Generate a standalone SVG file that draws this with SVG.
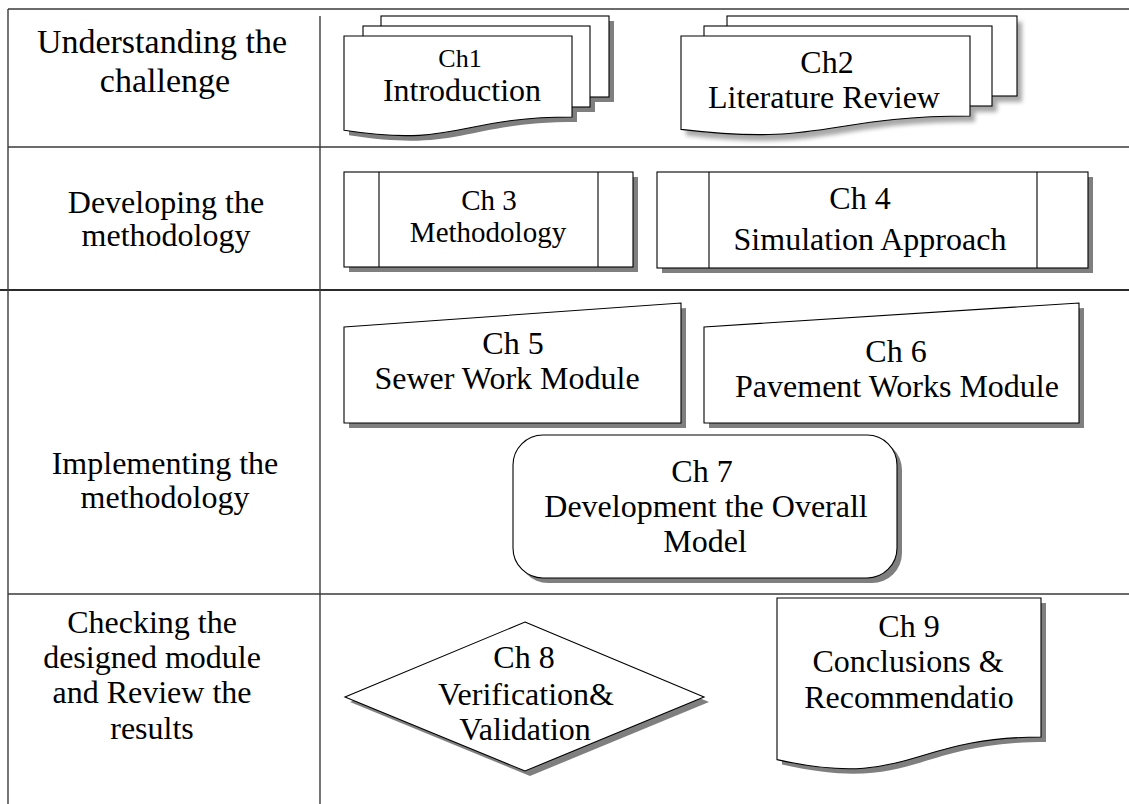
<svg xmlns="http://www.w3.org/2000/svg" width="1129" height="804" viewBox="0 0 1129 804">
  <style>
    .grid { stroke: #3a3a3a; stroke-width: 1.4; fill: none; }
    .grid-heavy { stroke: #2a2a2a; stroke-width: 2; fill: none; }
    .shape { fill: #ffffff; stroke: #000000; stroke-width: 1.1; }
    .inner { stroke: #000000; stroke-width: 1.1; fill: none; }
    .shadow { fill: #7f7f7f; stroke: none; }
    .soft { fill: #a8a8a8; stroke: none; filter: url(#blur); }
    .lbl { font-family: "Liberation Serif", "Times New Roman", serif; font-size: 32px; fill: #000; text-anchor: middle; }
    .row { font-family: "Liberation Serif", "Times New Roman", serif; font-size: 32px; fill: #000; text-anchor: middle; }
  </style>
  <defs>
    <filter id="blur" x="-10%" y="-10%" width="120%" height="130%">
      <feGaussianBlur stdDeviation="2"/>
    </filter>
    <!-- Ch1 multi-document pages -->
    <rect id="ch1-p3" x="381" y="16" width="228" height="81"/>
    <rect id="ch1-p2" x="363" y="26" width="227" height="81"/>
    <path id="ch1-p1" d="M344,36 H572 V117 C458,117 458,147.8 344,130.3 Z"/>
    <!-- Ch2 multi-document pages -->
    <rect id="ch2-p3" x="727" y="16" width="290" height="80"/>
    <rect id="ch2-p2" x="704" y="26" width="288" height="80"/>
    <path id="ch2-p1" d="M681,36 H970 V116 C825.5,116 825.5,146.7 681,129.4 Z"/>
    <!-- process boxes -->
    <rect id="ch3-box" x="344" y="172" width="289" height="95"/>
    <rect id="ch4-box" x="657" y="172" width="431" height="96"/>
    <!-- manual input -->
    <path id="ch5-box" d="M344,327 L681,303 L681,423 L344,423 Z"/>
    <path id="ch6-box" d="M704,327 L1079,303 L1079,423 L704,423 Z"/>
    <!-- rounded box -->
    <rect id="ch7-box" x="513" y="435" width="384" height="143" rx="30" ry="30"/>
    <!-- decision -->
    <path id="ch8-box" d="M525,622 L704,697 L525,771 L345,697 Z"/>
    <!-- document -->
    <path id="ch9-box" d="M777,598 H1041 V737 C909,737 909,789.5 777,759.6 Z"/>
  </defs>

  <rect x="0" y="0" width="1129" height="804" fill="#ffffff"/>

  <!-- table grid -->
  <g id="table">
    <line class="grid" x1="8" y1="9" x2="1129" y2="9"/>
    <line class="grid" x1="8" y1="147" x2="1129" y2="147"/>
    <line class="grid-heavy" x1="0" y1="290" x2="1129" y2="290"/>
    <line class="grid" x1="8" y1="594" x2="1129" y2="594"/>
    <line class="grid" x1="8" y1="9" x2="8" y2="804"/>
    <line class="grid" x1="320" y1="16" x2="320" y2="804"/>
  </g>

  <!-- row headings -->
  <g id="row-1">
    <text class="row" x="162" y="53" style="font-size:34px">Understanding the</text>
    <text class="row" x="165" y="92" style="font-size:34px">challenge</text>
  </g>
  <g id="row-2">
    <text class="row" x="166" y="213">Developing the</text>
    <text class="row" x="166" y="246">methodology</text>
  </g>
  <g id="row-3">
    <text class="row" x="165" y="474">Implementing the</text>
    <text class="row" x="165" y="508">methodology</text>
  </g>
  <g id="row-4">
    <text class="row" x="152" y="633">Checking the</text>
    <text class="row" x="152" y="668">designed module</text>
    <text class="row" x="152" y="703">and Review the</text>
    <text class="row" x="152" y="739">results</text>
  </g>

  <!-- Ch1 -->
  <g id="ch1">
    <use href="#ch1-p3" class="shadow" transform="translate(5,5)"/>
    <use href="#ch1-p2" class="shadow" transform="translate(5,5)"/>
    <use href="#ch1-p1" class="shadow" transform="translate(5,5)"/>
    <use href="#ch1-p3" class="shape"/>
    <use href="#ch1-p2" class="shape"/>
    <use href="#ch1-p1" class="shape"/>
    <text class="lbl" x="460" y="67" style="font-size:26px">Ch1</text>
    <text class="lbl" x="462" y="101">Introduction</text>
  </g>

  <!-- Ch2 -->
  <g id="ch2">
    <use href="#ch2-p3" class="soft" transform="translate(5,6)"/>
    <use href="#ch2-p2" class="soft" transform="translate(5,6)"/>
    <use href="#ch2-p1" class="soft" transform="translate(5,6)"/>
    <use href="#ch2-p3" class="shape"/>
    <use href="#ch2-p2" class="shape"/>
    <use href="#ch2-p1" class="shape"/>
    <text class="lbl" x="827" y="73">Ch2</text>
    <text class="lbl" x="824" y="108">Literature Review</text>
  </g>

  <!-- Ch3 -->
  <g id="ch3">
    <use href="#ch3-box" class="shadow" transform="translate(5,5)"/>
    <use href="#ch3-box" class="shape"/>
    <line class="inner" x1="379" y1="172" x2="379" y2="267"/>
    <line class="inner" x1="598" y1="172" x2="598" y2="267"/>
    <text class="lbl" x="489" y="210" style="font-size:29px">Ch 3</text>
    <text class="lbl" x="488" y="242" style="font-size:29px">Methodology</text>
  </g>

  <!-- Ch4 -->
  <g id="ch4">
    <use href="#ch4-box" class="shadow" transform="translate(5,5)"/>
    <use href="#ch4-box" class="shape"/>
    <line class="inner" x1="709" y1="172" x2="709" y2="268"/>
    <line class="inner" x1="1037" y1="172" x2="1037" y2="268"/>
    <text class="lbl" x="860" y="209">Ch 4</text>
    <text class="lbl" x="870" y="250">Simulation Approach</text>
  </g>

  <!-- Ch5 -->
  <g id="ch5">
    <use href="#ch5-box" class="shadow" transform="translate(5,5)"/>
    <use href="#ch5-box" class="shape"/>
    <text class="lbl" x="513" y="354">Ch 5</text>
    <text class="lbl" x="507" y="389">Sewer Work Module</text>
  </g>

  <!-- Ch6 -->
  <g id="ch6">
    <use href="#ch6-box" class="shadow" transform="translate(5,5)"/>
    <use href="#ch6-box" class="shape"/>
    <text class="lbl" x="896" y="362">Ch 6</text>
    <text class="lbl" x="897" y="397">Pavement Works Module</text>
  </g>

  <!-- Ch7 -->
  <g id="ch7">
    <use href="#ch7-box" class="shadow" transform="translate(5,5)"/>
    <use href="#ch7-box" class="shape"/>
    <text class="lbl" x="702" y="482">Ch 7</text>
    <text class="lbl" x="706" y="517">Development the Overall</text>
    <text class="lbl" x="705" y="552">Model</text>
  </g>

  <!-- Ch8 -->
  <g id="ch8">
    <use href="#ch8-box" class="shadow" transform="translate(5,5)"/>
    <use href="#ch8-box" class="shape"/>
    <text class="lbl" x="524" y="668">Ch 8</text>
    <text class="lbl" x="526" y="705">Verification&amp;</text>
    <text class="lbl" x="525" y="740">Validation</text>
  </g>

  <!-- Ch9 -->
  <g id="ch9">
    <use href="#ch9-box" class="shadow" transform="translate(5,5)"/>
    <use href="#ch9-box" class="shape"/>
    <text class="lbl" x="909" y="637">Ch 9</text>
    <text class="lbl" x="908" y="672">Conclusions &amp;</text>
    <text class="lbl" x="909" y="708">Recommendatio</text>
  </g>

  <!-- chapters stand alone: no links between them -->
  <g id="connectors"/>
</svg>
